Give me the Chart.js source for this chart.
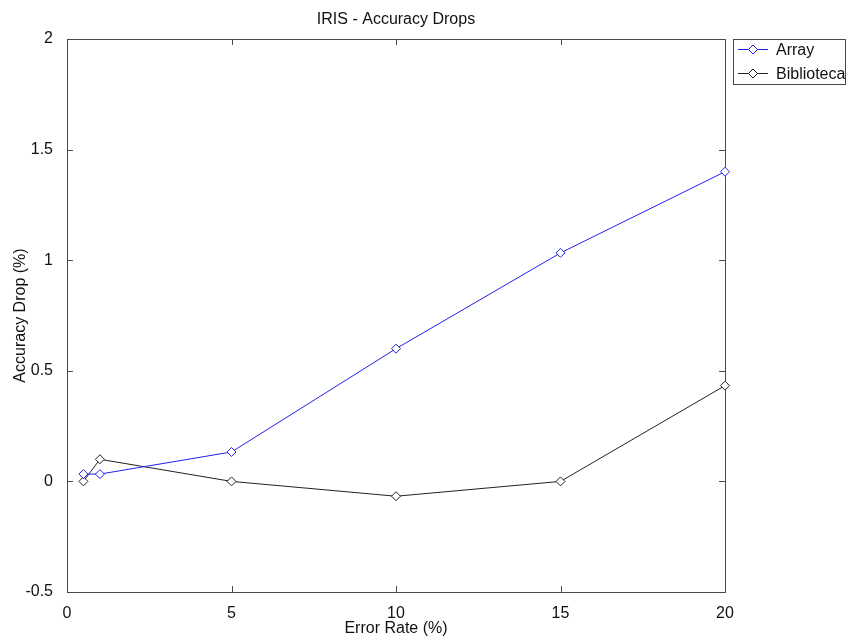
<!DOCTYPE html>
<html>
<head>
<meta charset="utf-8">
<script src="https://cdn.jsdelivr.net/npm/chart.js@4/dist/chart.umd.min.js"></script>
<style>
  html, body { margin: 0; padding: 0; background: #fff; }
  #wrap { width: 847px; height: 636px; }
</style>
</head>
<body>
<div id="wrap"><canvas id="accChart" width="847" height="636"></canvas></div>
<script>
// data
const errorRates = [0.5, 1, 5, 10, 15, 20];
const arrayDrop = [0.033, 0.033, 0.133, 0.6, 1.033, 1.4];
const bibliotecaDrop = [0, 0.1, 0, -0.067, 0, 0.433];
const seriesNames = ["Array", "Biblioteca"];
const xTicks = [0, 5, 10, 15, 20];
const yTicks = [-0.5, 0, 0.5, 1, 1.5, 2];

const FONT = "'Liberation Sans', Arial, Helvetica, sans-serif";
const toPoints = (ys) => errorRates.map((x, i) => ({ x: x, y: ys[i] }));

// box, inner ticks, titles and legend drawn the MATLAB way
const matlabFrame = {
  id: "matlabFrame",
  beforeDatasetsDraw(chart) {
    const { ctx, chartArea: a, scales } = chart;
    const tick = 6;
    ctx.save();
    ctx.strokeStyle = "#4a4a4a";
    ctx.lineWidth = 1;
    ctx.beginPath();
    xTicks.forEach(v => {
      const px = Math.round(scales.x.getPixelForValue(v)) + 0.5;
      ctx.moveTo(px, a.bottom); ctx.lineTo(px, a.bottom - tick);
      ctx.moveTo(px, a.top); ctx.lineTo(px, a.top + tick);
    });
    yTicks.forEach(v => {
      const py = Math.round(scales.y.getPixelForValue(v)) + 0.5;
      ctx.moveTo(a.left, py); ctx.lineTo(a.left + tick, py);
      ctx.moveTo(a.right, py); ctx.lineTo(a.right - tick, py);
    });
    ctx.stroke();
    ctx.strokeRect(Math.round(a.left) + 0.5, Math.round(a.top) + 0.5,
      Math.round(a.right - a.left), Math.round(a.bottom - a.top));
    ctx.restore();
  },
  afterDraw(chart) {
    const { ctx, chartArea: a } = chart;
    const cx = (a.left + a.right) / 2;
    ctx.save();
    ctx.fillStyle = "#111";
    ctx.font = "16px " + FONT;
    ctx.textAlign = "center";
    ctx.textBaseline = "alphabetic";
    ctx.fillText("IRIS - Accuracy Drops", cx, 23.5);
    ctx.fillText("Error Rate (%)", cx, 633);
    ctx.save();
    ctx.translate(25, (a.top + a.bottom) / 2);
    ctx.rotate(-Math.PI / 2);
    ctx.fillText("Accuracy Drop (%)", 0, 0);
    ctx.restore();

    // legend
    const lx = 733, ly = 39, lw = 112, lh = 45;
    ctx.fillStyle = "#fff";
    ctx.fillRect(lx, ly, lw, lh);
    ctx.strokeStyle = "#4a4a4a";
    ctx.lineWidth = 1;
    ctx.strokeRect(lx + 0.5, ly + 0.5, lw, lh);
    chart.data.datasets.forEach((ds, i) => {
      const y = ly + 10.5 + i * 24;
      ctx.strokeStyle = ds.borderColor;
      ctx.beginPath();
      ctx.moveTo(lx + 5, y); ctx.lineTo(lx + 35, y);
      ctx.stroke();
      const mx = lx + 20, r = 4.5;
      ctx.beginPath();
      ctx.moveTo(mx - r, y); ctx.lineTo(mx, y - r);
      ctx.lineTo(mx + r, y); ctx.lineTo(mx, y + r);
      ctx.closePath();
      ctx.fillStyle = "#fff";
      ctx.fill();
      ctx.stroke();
      ctx.fillStyle = "#111";
      ctx.textAlign = "left";
      ctx.textBaseline = "middle";
      ctx.fillText(ds.label, lx + 43, y + 1);
    });
    ctx.restore();
  }
};

const lineStyle = (color) => ({
  showLine: true,
  borderColor: color,
  borderWidth: 1,
  pointStyle: "rectRot",
  pointRadius: 4.5,
  pointHoverRadius: 4.5,
  pointBackgroundColor: "#fff",
  pointBorderColor: color,
  pointBorderWidth: 1,
  tension: 0,
  clip: false
});

new Chart(document.getElementById("accChart").getContext("2d"), {
  type: "scatter",
  data: {
    datasets: [
      Object.assign({ label: seriesNames[0], data: toPoints(arrayDrop) }, lineStyle("#2020e8")),
      Object.assign({ label: seriesNames[1], data: toPoints(bibliotecaDrop) }, lineStyle("#222222"))
    ]
  },
  options: {
    responsive: false,
    animation: false,
    layout: { padding: { top: 39, right: 122, left: 0, bottom: 0 } },
    plugins: {
      legend: { display: false },
      title: { display: false },
      tooltip: { enabled: false }
    },
    scales: {
      x: {
        type: "linear",
        min: 0,
        max: 20,
        grid: { display: false },
        border: { display: false },
        ticks: {
          stepSize: 5,
          padding: 4,
          color: "#111",
          font: { family: FONT, size: 16 },
          maxRotation: 0,
          callback: (v) => String(v)
        },
        afterFit(scale) { scale.height = 44; }
      },
      y: {
        type: "linear",
        min: -0.5,
        max: 2,
        grid: { display: false },
        border: { display: false },
        ticks: {
          stepSize: 0.5,
          padding: 6,
          color: "#111",
          font: { family: FONT, size: 16 },
          callback: (v) => String(v)
        },
        afterFit(scale) { scale.width = 67; }
      }
    }
  },
  plugins: [matlabFrame]
});
</script>
</body>
</html>
